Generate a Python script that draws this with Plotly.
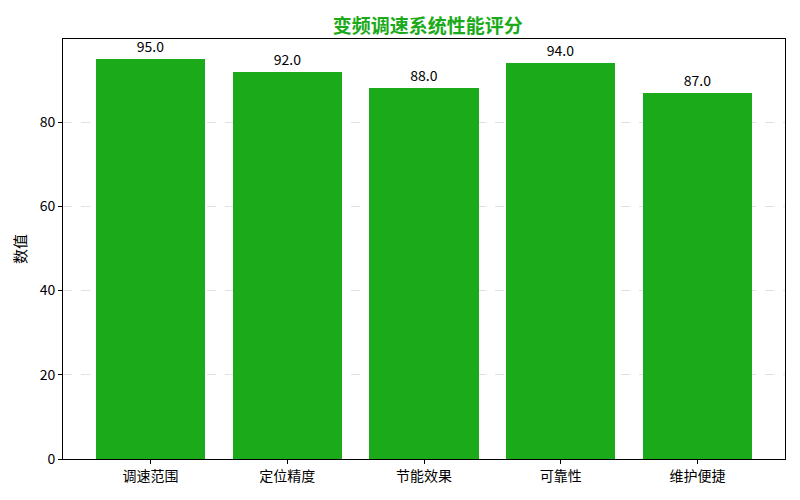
import plotly.graph_objects as go

# Data
categories = ["调速范围", "定位精度", "节能效果", "可靠性", "维护便捷"]
scores = [95.0, 92.0, 88.0, 94.0, 87.0]

bar_color = "#1AAA1A"
font_family = "Noto Sans CJK SC, DejaVu Sans, sans-serif"

fig = go.Figure(
    go.Bar(
        x=list(range(len(categories))),
        y=scores,
        width=0.8,
        marker=dict(color=bar_color, line=dict(width=0)),
        text=[f"{v:.1f}" for v in scores],
        textposition="outside",
        textangle=0,
        textfont=dict(size=14, color="black", family=font_family),
        cliponaxis=False,
    )
)

# page body has an 8px margin, so the figure is a bit smaller than the window
fig.update_layout(
    width=792,
    height=492,
    margin=dict(l=55, r=15, t=31, b=41),
    paper_bgcolor="white",
    plot_bgcolor="white",
    font=dict(family=font_family, size=14, color="black"),
    title=dict(
        text="<b>变频调速系统性能评分</b>",
        x=0.53,
        xanchor="center",
        y=0.962,
        yanchor="middle",
        font=dict(size=19, color=bar_color, family=font_family),
    ),
    showlegend=False,
    bargap=0,
)

fig.update_xaxes(
    range=[-0.64, 4.64],
    tickmode="array",
    tickvals=list(range(len(categories))),
    ticktext=categories,
    ticks="outside",
    ticklen=4,
    tickcolor="black",
    showline=True,
    linecolor="black",
    linewidth=1,
    mirror=True,
    showgrid=False,
    zeroline=False,
)

fig.update_yaxes(
    range=[0, 99.75],
    tickvals=[0, 20, 40, 60, 80],
    ticks="outside",
    ticklen=4,
    tickcolor="black",
    showline=True,
    linecolor="black",
    linewidth=1,
    mirror=True,
    showgrid=True,
    gridcolor="rgba(0,0,0,0.12)",
    griddash="dash",
    gridwidth=1,
    zeroline=False,
    title=dict(text="数值", font=dict(size=15), standoff=9),
)

fig.write_html("out.html")
